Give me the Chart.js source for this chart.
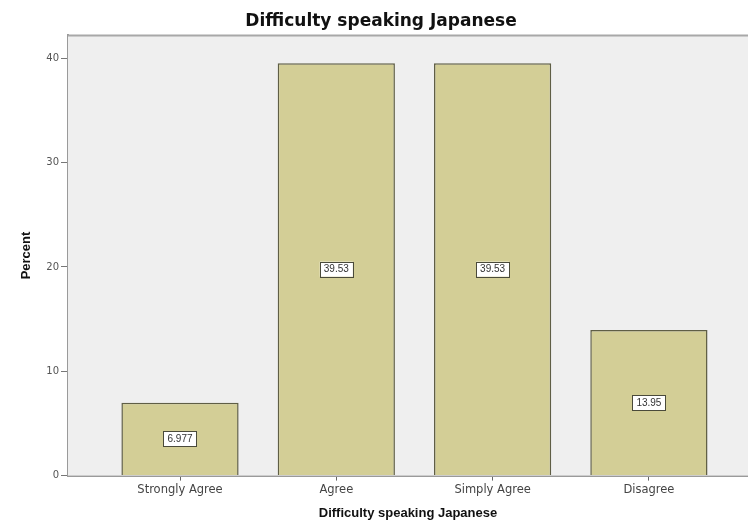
<!DOCTYPE html>
<html>
<head>
<meta charset="utf-8">
<script src="https://cdn.jsdelivr.net/npm/chart.js@4"></script>
<style>
html,body{margin:0;padding:0;background:#fff;overflow:hidden;}
#wrap{width:748px;height:525px;position:relative;}
</style>
</head>
<body>
<div id="wrap"><canvas id="c" width="748" height="525"></canvas></div>
<script>
const categories = ['Strongly Agree', 'Agree', 'Simply Agree', 'Disagree'];
const percents = [6.977, 39.53, 39.53, 13.95];
const valueLabels = ['6.977', '39.53', '39.53', '13.95'];
const yTicks = [0, 10, 20, 30, 40];
const chartTitle = 'Difficulty speaking Japanese';
const xTitle = 'Difficulty speaking Japanese';
const yTitle = 'Percent';

const bgPlugin = {
  id: 'bgPlugin',
  beforeDatasetsDraw(chart) {
    const {ctx, chartArea: a} = chart;
    ctx.save();
    ctx.fillStyle = '#efefef';
    ctx.fillRect(a.left, a.top, a.right - a.left, a.bottom - a.top);
    ctx.strokeStyle = '#a8a8a8';
    ctx.lineWidth = 2;
    ctx.beginPath();
    ctx.moveTo(a.left, a.top);
    ctx.lineTo(a.right, a.top);
    ctx.stroke();
    ctx.restore();
  },
  afterDatasetsDraw(chart) {
    const {ctx} = chart;
    const meta = chart.getDatasetMeta(0);
    ctx.save();
    ctx.font = '10px "Liberation Sans", Arial, sans-serif';
    ctx.textAlign = 'center';
    ctx.textBaseline = 'middle';
    meta.data.forEach((bar, i) => {
      const x = bar.x;
      const y = (bar.y + bar.base) / 2;
      const txt = valueLabels[i];
      const w = ctx.measureText(txt).width + 8;
      const h = 15;
      ctx.fillStyle = '#ffffff';
      ctx.fillRect(x - w / 2, y - h / 2, w, h);
      ctx.strokeStyle = '#4a4a3a';
      ctx.lineWidth = 1;
      ctx.strokeRect(Math.round(x - w / 2) + 0.5, Math.round(y - h / 2) + 0.5, Math.round(w), h);
      ctx.fillStyle = '#333';
      ctx.fillText(txt, x, y + 0.5);
    });
    ctx.restore();
  }
};

new Chart(document.getElementById('c'), {
  type: 'bar',
  data: {
    datasets: [{
      data: categories.map((c, i) => ({x: i, y: percents[i]})),
      backgroundColor: '#d3ce96',
      borderColor: '#5f5e45',
      borderWidth: 1.5,
      borderSkipped: 'bottom',
      barPercentage: 0.75,
      categoryPercentage: 1.0
    }]
  },
  options: {
    responsive: false,
    animation: false,
    devicePixelRatio: 1,
    layout: {padding: {left: 14, right: 0, top: 6, bottom: 4}},
    plugins: {
      legend: {display: false},
      tooltip: {enabled: false},
      title: {
        display: true,
        text: chartTitle,
        color: '#111',
        font: {family: '"DejaVu Sans", sans-serif', size: 17, weight: 'bold'},
        padding: {top: 5, bottom: 4}
      }
    },
    scales: {
      x: {
        type: 'linear',
        min: -0.7166,
        max: 3.634,
        offset: false,
        afterBuildTicks(scale) { scale.ticks = categories.map((c, i) => ({value: i})); },
        ticks: {
          autoSkip: false,
          maxRotation: 0,
          color: '#444',
          font: {family: '"DejaVu Sans", sans-serif', size: 11.5},
          padding: 3,
          callback: (v) => categories[v] ?? ''
        },
        grid: {display: true, offset: false, drawOnChartArea: false, drawTicks: true, tickLength: 5, color: '#666'},
        border: {display: true, color: '#9a9a9a', width: 2},
        title: {
          display: true,
          text: xTitle,
          color: '#111',
          font: {family: '"Liberation Sans", Arial, sans-serif', size: 13, weight: 'bold'},
          padding: {top: 5, bottom: 0}
        }
      },
      y: {
        min: 0,
        max: 42.2,
        afterBuildTicks(scale) { scale.ticks = yTicks.map(v => ({value: v})); },
        afterFit(scale) { scale.width = 54; },
        ticks: {
          color: '#555',
          font: {family: '"DejaVu Sans", sans-serif', size: 10},
          padding: 2
        },
        grid: {display: true, drawOnChartArea: false, drawTicks: true, tickLength: 7, color: '#777'},
        border: {display: true, color: '#9a9a9a', width: 2},
        title: {
          display: true,
          text: yTitle,
          color: '#111',
          font: {family: '"Liberation Sans", Arial, sans-serif', size: 13, weight: 'bold'},
          padding: {top: 5, bottom: 4}
        }
      }
    }
  },
  plugins: [bgPlugin]
});
</script>
</body>
</html>
